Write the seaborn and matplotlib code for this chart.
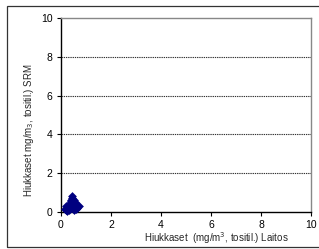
import matplotlib
matplotlib.use('Agg')
import matplotlib.pyplot as plt
import seaborn as sns
import pandas as pd
from matplotlib.patches import Rectangle

# Values
laitos = [0.15, 0.20, 0.25, 0.30, 0.30, 0.35, 0.40, 0.42, 0.45, 0.50, 0.45, 0.50, 0.55,
          0.60, 0.65, 0.70, 0.60, 0.40, 0.35, 0.25, 0.50, 0.55, 0.65, 0.20, 0.38, 0.48]
srm = [0.15, 0.30, 0.20, 0.35, 0.10, 0.45, 0.55, 0.70, 0.80, 0.60, 0.35, 0.25, 0.40,
       0.30, 0.35, 0.30, 0.15, 0.20, 0.25, 0.05, 0.10, 0.50, 0.20, 0.10, 0.62, 0.45]
ticks = [0, 2, 4, 6, 8, 10]

df = pd.DataFrame({'Laitos': laitos, 'SRM': srm})

sns.set_style('white')
plt.rcParams['font.family'] = ['Liberation Sans', 'DejaVu Sans']

W, H = 319, 249
fig = plt.figure(figsize=(W / 100, H / 100), dpi=100)
ax = fig.add_axes([61 / W, 1 - 212 / H, 250 / W, 194 / H])

# outer chart border
fig.patches.append(Rectangle((7 / W, 1 - 247 / H), 1, 241 / H, transform=fig.transFigure,
                             fill=False, edgecolor='#333333', linewidth=0.9))

sns.scatterplot(data=df, x='Laitos', y='SRM', ax=ax, marker='D', color='#000080',
                s=20, linewidth=0, legend=False, clip_on=False, zorder=3)

ax.set_xlim(0, 10)
ax.set_ylim(0, 10)
ax.set_xticks(ticks)
ax.set_yticks(ticks)
for t in ticks[1:-1]:
    ax.axhline(t, color='#333333', linestyle=(0, (1.2, 0.8)), linewidth=0.8, zorder=1)

for s in ['left', 'bottom']:
    ax.spines[s].set_color('black')
    ax.spines[s].set_linewidth(1.0)
for s in ['top', 'right']:
    ax.spines[s].set_color('#888888')
    ax.spines[s].set_linewidth(1.0)

ax.tick_params(axis='both', which='major', direction='out', length=3, width=0.8,
               labelsize=7.5, colors='black', pad=3)
ax.tick_params(left=True, bottom=True)

ax.set_xlabel('Hiukkaset  (mg/m$^3$, tositil.) Laitos', fontsize=7)
ax.set_ylabel('Hiukkaset mg/m$_3$, tositil.) SRM', fontsize=7)
ax.xaxis.set_label_coords(0.62, -0.095)
ax.yaxis.set_label_coords(-0.10, 0.42)

fig.savefig('out.png', dpi=100)
